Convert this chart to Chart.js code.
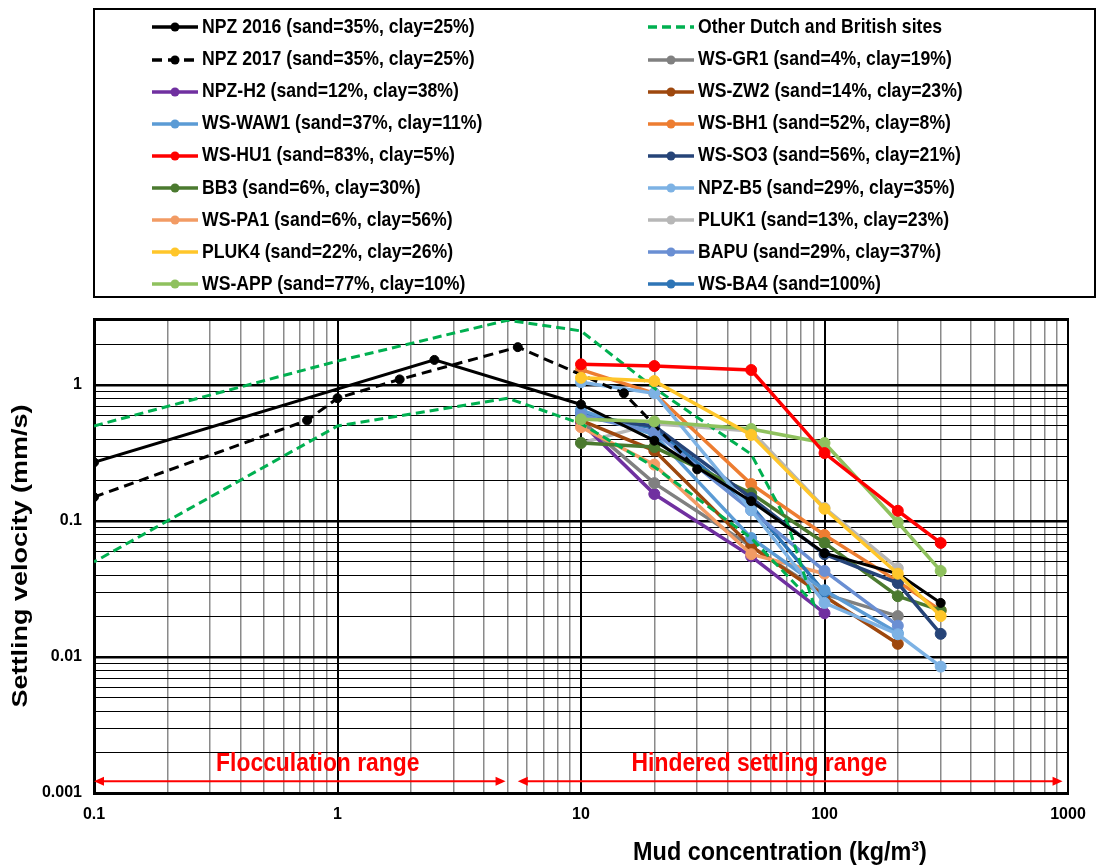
<!DOCTYPE html>
<html>
<head>
<meta charset="utf-8">
<script src="https://cdn.jsdelivr.net/npm/chart.js@4.4.1/dist/chart.umd.min.js"></script>
<style>
  html, body { margin: 0; padding: 0; background: #fff; }
  #wrap { position: relative; width: 1099px; height: 865px; }
  #chart { position: absolute; left: 0; top: 0; }
  #legend {
    position: absolute; left: 93px; top: 8px; width: 999px; height: 286px;
    border: 2px solid #000;
    font-family: 'Liberation Sans', Arial, sans-serif;
    font-weight: bold; font-size: 21px; color: #000;
  }
  .item { position: absolute; height: 32px; line-height: 32px; white-space: nowrap; }
  .item canvas { vertical-align: middle; margin-right: 4px; }
  .item span { display: inline-block; transform: scaleX(0.84); transform-origin: 0 50%; }
</style>
</head>
<body>
<div id="wrap">
  <canvas id="chart" width="1099" height="865"></canvas>
  <div id="legend"></div>
</div>
<script>
'use strict';

// axis ticks (log scales, labels only on the decades)
const xTickValues = [0.1, 1, 10, 100, 1000];
const xTickLabels = ['0.1', '1', '10', '100', '1000'];
const yTickValues = [0.001, 0.01, 0.1, 1];
const yTickLabels = ['0.001', '0.01', '0.1', '1'];

// settling velocity (mm/s) against mud concentration (kg/m3)
const npz2016X = [0.1, 2.5, 10, 20, 50, 100, 200, 300];
const npz2016Y = [0.27, 1.53, 0.72, 0.39, 0.14, 0.058, 0.041, 0.025];

const npz2017X = [0.1, 0.75, 1, 1.8, 5.5, 15, 30];
const npz2017Y = [0.15, 0.55, 0.8, 1.1, 1.9, 0.87, 0.24];

// envelope of the other sites: upper branch out, lower branch back
const otherX = [0.1, 1, 5, 10, 20, 50, 70, 90, 50, 20, 10, 5, 1, 0.1];
const otherY = [0.5, 1.5, 3.0, 2.5, 0.95, 0.31, 0.1, 0.025, 0.075, 0.25, 0.52, 0.8, 0.5, 0.05];

const npzH2X = [10, 20, 50, 100];
const npzH2Y = [0.53, 0.158, 0.055, 0.021];

const wsWaw1X = [10, 20, 50, 100, 200];
const wsWaw1Y = [0.655, 0.43, 0.075, 0.031, 0.015];

const wsHu1X = [10, 20, 50, 100, 200, 300];
const wsHu1Y = [1.42, 1.38, 1.29, 0.316, 0.119, 0.069];

const bb3X = [10, 20, 50, 100, 200, 300];
const bb3Y = [0.375, 0.35, 0.16, 0.069, 0.028, 0.022];

const wsPa1X = [10, 20, 50, 100];
const wsPa1Y = [0.49, 0.26, 0.057, 0.041];

const pluk4X = [10, 20, 50, 100, 200, 300];
const pluk4Y = [1.13, 1.07, 0.43, 0.123, 0.041, 0.020];

const wsAppX = [10, 20, 50, 100, 200, 300];
const wsAppY = [0.56, 0.54, 0.475, 0.375, 0.098, 0.043];

const wsGr1X = [10, 20, 50, 100, 200];
const wsGr1Y = [0.55, 0.19, 0.065, 0.029, 0.020];

const wsZw2X = [10, 20, 50, 100, 200];
const wsZw2Y = [0.55, 0.33, 0.065, 0.028, 0.0125];

const wsBh1X = [10, 20, 50, 100, 200, 300];
const wsBh1Y = [1.3, 0.87, 0.187, 0.079, 0.036, 0.022];

const wsSo3X = [10, 20, 50, 100, 200, 300];
const wsSo3Y = [0.58, 0.5, 0.148, 0.057, 0.035, 0.0148];

const npzB5X = [10, 20, 50, 100, 200, 300];
const npzB5Y = [1.05, 0.87, 0.12, 0.025, 0.0147, 0.0085];

const pluk1X = [10, 20, 50, 100, 200];
const pluk1Y = [0.375, 0.52, 0.46, 0.125, 0.045];

const bapuX = [10, 20, 50, 100, 200];
const bapuY = [0.6, 0.45, 0.12, 0.043, 0.017];

const wsBa4X = [10, 20, 50, 100];
const wsBa4Y = [0.62, 0.48, 0.13, 0.03];

// the two ranges marked along the bottom of the plot
const rangeLabels = ['Flocculation range', 'Hindered settling range'];
const rangeFrom = [0.1, 5.5];
const rangeTo = [4.9, 950];
const rangeLabelAt = [0.83, 54];

// legend order (column 1 then column 2); order = drawing depth, lower is on top
const series = [
    { label: 'NPZ 2016 (sand=35%, clay=25%)', x: npz2016X, y: npz2016Y, color: '#000000', order: 4, r: 4.5, w: 3 },
    { label: 'NPZ 2017 (sand=35%, clay=25%)', x: npz2017X, y: npz2017Y, color: '#000000', order: 5, r: 4.5, w: 3, dash: [10, 6] },
    { label: 'NPZ-H2 (sand=12%, clay=38%)', x: npzH2X, y: npzH2Y, color: '#7030A0', order: 17 },
    { label: 'WS-WAW1 (sand=37%, clay=11%)', x: wsWaw1X, y: wsWaw1Y, color: '#5B9BD5', order: 11 },
    { label: 'WS-HU1 (sand=83%, clay=5%)', x: wsHu1X, y: wsHu1Y, color: '#FF0000', order: 1 },
    { label: 'BB3 (sand=6%, clay=30%)', x: bb3X, y: bb3Y, color: '#4B7A2F', order: 10 },
    { label: 'WS-PA1 (sand=6%, clay=56%)', x: wsPa1X, y: wsPa1Y, color: '#F29B64', order: 14 },
    { label: 'PLUK4 (sand=22%, clay=26%)', x: pluk4X, y: pluk4Y, color: '#FFC62A', order: 2 },
    { label: 'WS-APP (sand=77%, clay=10%)', x: wsAppX, y: wsAppY, color: '#8FC15E', order: 3 },
    { label: 'Other Dutch and British sites', x: otherX, y: otherY, color: '#00B050', order: 6, r: 0, w: 3, dash: [9, 5] },
    { label: 'WS-GR1 (sand=4%, clay=19%)', x: wsGr1X, y: wsGr1Y, color: '#808080', order: 16 },
    { label: 'WS-ZW2 (sand=14%, clay=23%)', x: wsZw2X, y: wsZw2Y, color: '#9E480E', order: 15 },
    { label: 'WS-BH1 (sand=52%, clay=8%)', x: wsBh1X, y: wsBh1Y, color: '#ED7D31', order: 13 },
    { label: 'WS-SO3 (sand=56%, clay=21%)', x: wsSo3X, y: wsSo3Y, color: '#264478', order: 9 },
    { label: 'NPZ-B5 (sand=29%, clay=35%)', x: npzB5X, y: npzB5Y, color: '#7DB2E4', order: 7 },
    { label: 'PLUK1 (sand=13%, clay=23%)', x: pluk1X, y: pluk1Y, color: '#B7B7B7', order: 18 },
    { label: 'BAPU (sand=29%, clay=37%)', x: bapuX, y: bapuY, color: '#6A8FD3', order: 8 },
    { label: 'WS-BA4 (sand=100%)', x: wsBa4X, y: wsBa4Y, color: '#2E75B6', order: 12 }
];

const FONT = "'Liberation Sans', Arial, sans-serif";

function isDecade(v) {
    const l = Math.log10(v);
    return Math.abs(l - Math.round(l)) < 1e-6;
}

// 1..9 in every decade, for the minor grid
function logTicks(min, max) {
    const vals = [];
    for (let e = Math.floor(Math.log10(min)); e <= Math.ceil(Math.log10(max)); e++) {
        for (let s = 1; s <= 9; s++) {
            const v = parseFloat((s * Math.pow(10, e)).toPrecision(6));
            if (v >= min * 0.999 && v <= max * 1.001) vals.push(v);
        }
    }
    return vals.map(v => ({ value: v }));
}

function labelFor(values, labels, v) {
    const i = values.findIndex(t => Math.abs(Math.log10(t) - Math.log10(v)) < 1e-6);
    return i < 0 ? '' : labels[i];
}

// bold text, squeezed across its width like the original figure
function narrowText(ctx, text, x, y, size, squeeze, vertical) {
    ctx.save();
    ctx.translate(x, y);
    if (vertical) {
        ctx.rotate(-Math.PI / 2);
        ctx.scale(1, squeeze);
    } else {
        ctx.scale(squeeze, 1);
    }
    ctx.font = 'bold ' + size + 'px ' + FONT;
    ctx.textAlign = 'center';
    ctx.textBaseline = 'middle';
    ctx.fillText(text, 0, 0);
    ctx.restore();
}

const datasets = series.map(s => ({
    label: s.label,
    data: s.x.map((v, i) => ({ x: v, y: s.y[i] })),
    showLine: true,
    borderColor: s.color,
    backgroundColor: s.color,
    borderWidth: s.w || 3.5,
    borderDash: s.dash || [],
    pointRadius: s.r === undefined ? 5.5 : s.r,
    pointBackgroundColor: s.color,
    pointBorderColor: s.color,
    pointBorderWidth: 1,
    order: s.order,
    tension: 0
}));

// frame, range arrows and axis titles
const extras = {
    id: 'extras',
    afterDatasetsDraw(chart) {
        const { ctx, chartArea: a, scales: { x, y } } = chart;
        ctx.save();
        ctx.strokeStyle = '#000';
        ctx.lineWidth = 2;
        ctx.beginPath();
        ctx.moveTo(a.left, a.top);
        ctx.lineTo(a.right, a.top);
        ctx.lineTo(a.right, a.bottom);
        ctx.stroke();

        const arrowY = y.getPixelForValue(0.00122);
        ctx.strokeStyle = '#FF0000';
        ctx.fillStyle = '#FF0000';
        ctx.lineWidth = 2;
        rangeLabels.forEach((txt, i) => {
            const x1 = x.getPixelForValue(rangeFrom[i]);
            const x2 = x.getPixelForValue(rangeTo[i]);
            ctx.beginPath();
            ctx.moveTo(x1 + 4, arrowY);
            ctx.lineTo(x2 - 4, arrowY);
            ctx.stroke();
            [[x1, 1], [x2, -1]].forEach(([px, d]) => {
                ctx.beginPath();
                ctx.moveTo(px, arrowY);
                ctx.lineTo(px + d * 10, arrowY - 4.5);
                ctx.lineTo(px + d * 10, arrowY + 4.5);
                ctx.closePath();
                ctx.fill();
            });
            narrowText(ctx, txt, x.getPixelForValue(rangeLabelAt[i]), arrowY - 17, 26, 0.88, false);
        });

        ctx.fillStyle = '#000';
        narrowText(ctx, 'Mud concentration (kg/m\u00B3)', 780, 853, 26, 0.9, false);
        narrowText(ctx, 'Settling velocity (mm/s)', 21, (a.top + a.bottom) / 2, 27, 0.85, true);
        ctx.restore();
    }
};

const chart = new Chart(document.getElementById('chart'), {
    type: 'scatter',
    data: { datasets: datasets },
    options: {
        responsive: false,
        devicePixelRatio: 1,
        animation: false,
        layout: { padding: { left: 0, right: 31, top: 319, bottom: 0 } },
        plugins: {
            legend: { display: false },
            tooltip: { enabled: false }
        },
        scales: {
            x: {
                type: 'logarithmic',
                min: 0.1,
                max: 1000,
                afterBuildTicks: s => { s.ticks = logTicks(0.1, 1000); },
                afterFit: s => { s.height = 72; },
                ticks: {
                    autoSkip: false,
                    maxRotation: 0,
                    padding: 12,
                    color: '#000',
                    font: { family: FONT, size: 16, weight: 'bold' },
                    callback: v => labelFor(xTickValues, xTickLabels, v)
                },
                grid: {
                    drawTicks: false,
                    color: c => isDecade(c.tick.value) ? '#000' : '#8a8a8a',
                    lineWidth: c => isDecade(c.tick.value) ? 2 : 1.5
                },
                border: { color: '#000', width: 3 }
            },
            y: {
                type: 'logarithmic',
                min: 0.001,
                max: 3.06,
                afterBuildTicks: s => { s.ticks = logTicks(0.001, 3.06); },
                afterFit: s => { s.width = 94; },
                ticks: {
                    autoSkip: false,
                    padding: 12,
                    color: '#000',
                    font: { family: FONT, size: 16, weight: 'bold' },
                    callback: v => labelFor(yTickValues, yTickLabels, v)
                },
                grid: {
                    drawTicks: false,
                    color: '#000',
                    lineWidth: c => isDecade(c.tick.value) ? 2.5 : 1
                },
                border: { color: '#000', width: 3 }
            }
        }
    },
    plugins: [extras]
});

// two-column legend in a framed box above the plot
const legendBox = document.getElementById('legend');
chart.data.datasets.forEach((ds, i) => {
    const col = i < 9 ? 0 : 1;
    const row = i % 9;
    const item = document.createElement('div');
    item.className = 'item';
    item.style.left = (col === 0 ? 57 : 553) + 'px';
    item.style.top = (row * 32.1) + 'px';

    const sample = document.createElement('canvas');
    sample.width = 46;
    sample.height = 14;
    const c = sample.getContext('2d');
    c.strokeStyle = ds.borderColor;
    c.fillStyle = ds.borderColor;
    c.lineWidth = 3.5;
    c.setLineDash(ds.borderDash);
    c.beginPath();
    c.moveTo(0, 7);
    c.lineTo(46, 7);
    c.stroke();
    if (ds.pointRadius > 0) {
        c.beginPath();
        c.arc(23, 7, 4.5, 0, Math.PI * 2);
        c.fill();
    }
    item.appendChild(sample);
    const text = document.createElement('span');
    text.textContent = ds.label;
    item.appendChild(text);
    legendBox.appendChild(item);
});
</script>
</body>
</html>
